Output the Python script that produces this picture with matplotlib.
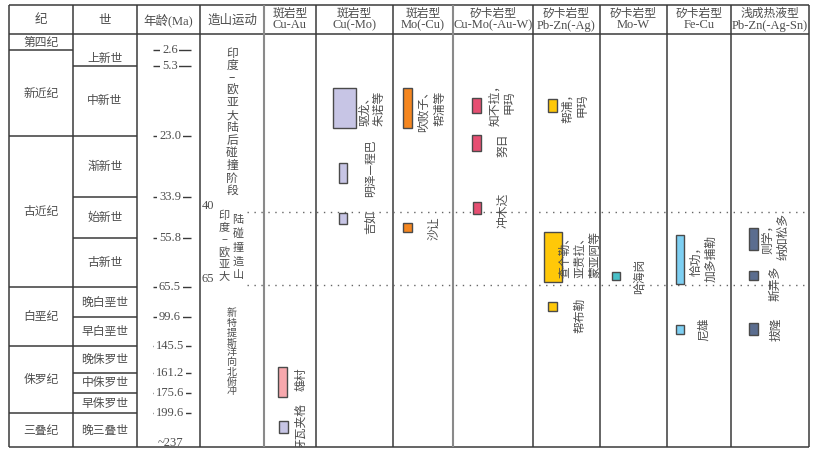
import numpy as np
import matplotlib.pyplot as plt
import matplotlib.transforms as mtransforms
from matplotlib.patches import Rectangle

plt.rcParams['font.family'] = ['Noto Sans CJK SC', 'DejaVu Sans']
SERIF = ['Liberation Serif', 'Noto Sans CJK SC']
TXT = '#4d4d4d'
LINE = '#3a3a3a'

# ---------------- 数据 ----------------
periods = ['第四纪', '新近纪', '古近纪', '白垩纪', '侏罗纪', '三叠纪']
period_ages = [0, 2.6, 23.0, 65.5, 145.5, 199.6, 237]
epochs = ['上新世', '中新世', '渐新世', '始新世', '古新世', '晚白垩世', '早白垩世',
          '晚侏罗世', '中侏罗世', '早侏罗世', '晚三叠世']
epoch_ages = [2.6, 5.3, 23.0, 33.9, 55.8, 65.5, 99.6, 145.5, 161.2, 175.6, 199.6, 237]
age_ticks = [2.6, 5.3, 23.0, 33.9, 55.8, 65.5, 99.6, 145.5, 161.2, 175.6, 199.6, 237]
age_tick_labels = ['2.6', '5.3', '23.0', '33.9', '55.8', '65.5', '99.6',
                   '145.5', '161.2', '175.6', '199.6', '~237']
orogeny_ages = [40, 65]
orogeny_text1 = '印度–欧亚大陆后碰撞阶段'
orogeny_text2 = ['印度–欧亚大', '陆碰撞造山']
orogeny_text3 = '新特提斯洋向北俯冲'

head_titles = ['纪', '世', '年龄(Ma)', '造山运动']
col_titles = [('斑岩型', 'Cu-Au'), ('斑岩型', 'Cu(-Mo)'), ('斑岩型', 'Mo(-Cu)'),
              ('矽卡岩型', 'Cu-Mo(-Au-W)'), ('矽卡岩型', 'Pb-Zn(-Ag)'), ('矽卡岩型', 'Mo-W'),
              ('矽卡岩型', 'Fe-Cu'), ('浅成热液型', 'Pb-Zn(-Ag-Sn)')]

dep_names = ['驱龙、\n朱诺等', '明泽—程巴', '吉如', '吹败子、\n帮浦等', '沙让',
             '知不拉，\n甲玛', '努日', '冲木达', '帮浦，\n甲玛', '查个勒、\n亚贵拉、\n蒙亚阿等',
             '帮布勒', '哈海岗', '恰功，\n加多捕勒', '尼雄', '则学，\n纳如松多', '斯弄多',
             '拔隆', '雄村', '牙瓦夹格']
dep_young = [11.0, 27.8, 40.2, 11.0, 47.0, 13.3, 22.7, 36.1, 13.7, 52.6,
             83.2, 62.5, 54.4, 112.8, 49.7, 62.4, 110.2, 157.9, 208.1]
dep_old = [21.0, 31.5, 47.6, 21.0, 52.6, 17.3, 25.6, 41.4, 16.9, 64.5,
           93.2, 64.1, 64.9, 126.3, 58.2, 64.0, 128.4, 180.8, 221.3]

# ---------------- 版式 ----------------
col_edges = [9, 73, 137, 200, 264, 316, 393, 453, 533, 600, 667, 731, 809]
TOP, HEAD, BOT = 4.7, 34.3, 447.3
KNOT_AGE = [0, 2.6, 5.3, 23.0, 33.9, 40, 55.8, 65.5, 99.6, 145.5, 161.2, 175.6, 199.6, 237]
KNOT_PX = [34.3, 50.5, 65.7, 136.2, 196.6, 212.2, 237.6, 287.2, 316.6, 346.2,
           372.8, 393.1, 413.2, 447.3]

bar_x = [344.5, 343, 343, 407.5, 407.5, 476.5, 476.5, 477, 552.5, 553,
         552.5, 616, 680, 680, 753.5, 753.5, 753.5, 283, 283.5]
bar_w = [23, 8.5, 8.5, 9, 9, 8.5, 8.5, 8.5, 8.5, 18,
         8.5, 8.5, 8.5, 8.5, 9, 9, 9, 9, 9]
lab_x = [372, 370, 370, 432, 434, 502, 503, 503, 575, 580,
         580, 640, 703, 703, 775, 775, 776, 301, 301]
lab_dy = [0, 5, -4, 0, 0, 3, -2, -2, 0, 3, -9, 0, 1, 0, 2, -8, 0, 3, 0]
dep_colors = ['#c7c5e5', '#c7c5e5', '#c7c5e5', '#f5861f', '#f5861f',
              '#e64f72', '#e64f72', '#e64f72', '#ffc808', '#ffc808', '#ffc808',
              '#48c0c8', '#7dcff2', '#7dcff2', '#5b6d8f', '#5b6d8f', '#5b6d8f',
              '#f7a8ad', '#c7c5e5']


def age_fwd(a):
    return np.interp(a, KNOT_AGE, KNOT_PX)


def age_inv(p):
    return np.interp(p, KNOT_PX, KNOT_AGE)


def mid_age(a, b):
    return age_inv((age_fwd(a) + age_fwd(b)) / 2)


fig = plt.figure(figsize=(8.17, 4.54), dpi=100)

# 表格框架（像素坐标）
frame = fig.add_axes([0, 0, 1, 1])
frame.set_xlim(0, 817)
frame.set_ylim(454, 0)
frame.axis('off')

frame.hlines([TOP, HEAD, BOT], col_edges[0], col_edges[-1], color=LINE, lw=1.1)
for i, x in enumerate(col_edges):
    c = '#8a8a8a' if x in (264, 453) else LINE
    frame.vlines(x, TOP, BOT, color=c, lw=1.1 if c == LINE else 1.5)

centers = [(col_edges[i] + col_edges[i + 1]) / 2 for i in range(len(col_edges) - 1)]
for i, t in enumerate(head_titles):
    frame.text(centers[i], 20, t, ha='center', va='center', fontsize=9,
               color=TXT, family=SERIF if 'Ma' in t else None)
for i, (t1, t2) in enumerate(col_titles):
    frame.text(centers[i + 4], 13.5, t1, ha='center', va='center', fontsize=8.5, color=TXT)
    frame.text(centers[i + 4], 25.5, t2, ha='center', va='center', fontsize=9,
               color=TXT, family=SERIF)

# 造山运动竖排文字
for i, ch in enumerate(orogeny_text1):
    frame.text(232, 53 + 12.5 * i, ch, ha='center', va='center', fontsize=8.5, color=TXT)
for i, ch in enumerate(orogeny_text2[0]):
    frame.text(224, 216 + 12.2 * i, ch, ha='center', va='center', fontsize=8, color=TXT)
for i, ch in enumerate(orogeny_text2[1]):
    frame.text(238, 220 + 13.8 * i, ch, ha='center', va='center', fontsize=8, color=TXT)
for i, ch in enumerate(orogeny_text3):
    frame.text(232, 313 + 9.8 * i, ch, ha='center', va='center', fontsize=7.2, color=TXT)

# 主体（年龄坐标）
body = fig.add_axes([0, 1 - BOT / 454, 1, (BOT - HEAD) / 454])
body.set_facecolor('none')
body.set_xlim(0, 817)
body.set_yscale('function', functions=(age_fwd, age_inv))
body.set_ylim(237, 0)
body.axis('off')

body.hlines(period_ages[1:-1], col_edges[0], col_edges[1], color=LINE, lw=1.1)
body.hlines(epoch_ages[1:-1], col_edges[1], col_edges[2], color=LINE, lw=1.1)

for name, a, b in zip(periods, period_ages[:-1], period_ages[1:]):
    body.text(41, mid_age(a, b), name, ha='center', va='center', fontsize=8.5, color=TXT)
for name, a, b in zip(epochs, epoch_ages[:-1], epoch_ages[1:]):
    body.text(105, mid_age(a, b), name, ha='center', va='center', fontsize=8.5, color=TXT)

for a, lab in zip(age_ticks, age_tick_labels):
    if lab.startswith('~'):
        tr = mtransforms.offset_copy(body.transData, fig=fig, x=0, y=4, units='dots')
        body.text(170, a, lab, ha='center', va='center', fontsize=9, color=TXT,
                  family=SERIF, transform=tr)
        continue
    body.hlines(a, 153, 191, color=LINE, lw=1)
    body.text(170, a, lab, ha='center', va='center', fontsize=9, color=TXT, family=SERIF,
              bbox=dict(facecolor='white', edgecolor='none', pad=1.2))

body.hlines(orogeny_ages, 247, col_edges[-1], color='#666666', lw=1, linestyles=(0, (1, 4)))
for a in orogeny_ages:
    body.text(202, a, str(a), ha='left', va='bottom', fontsize=9, color=TXT, family=SERIF)

# 矿床柱与名称
for i, name in enumerate(dep_names):
    y0, y1 = dep_young[i], dep_old[i]
    body.add_patch(Rectangle((bar_x[i] - bar_w[i] / 2, y0), bar_w[i], y1 - y0,
                             facecolor=dep_colors[i], edgecolor='#4a4a4a', lw=1, zorder=3))
    tr = mtransforms.offset_copy(body.transData, fig=fig, x=0, y=lab_dy[i], units='dots')
    body.text(lab_x[i], mid_age(y0, y1), name, rotation=90, ha='center', va='center',
              multialignment='center', linespacing=1.2, fontsize=8.5, color=TXT,
              transform=tr, clip_on=True, zorder=4)

plt.savefig('out.png', dpi=100)
plt.close(fig)
